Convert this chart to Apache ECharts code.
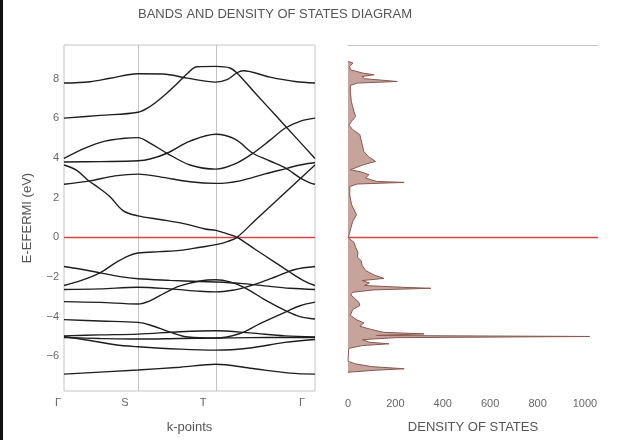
<!DOCTYPE html>
<html>
<head>
<meta charset="utf-8">
<title>Bands and density of states</title>
<script src="https://cdn.jsdelivr.net/npm/echarts@6/dist/echarts.min.js"></script>
<style>
  html, body { margin: 0; padding: 0; background: #fff; }
  #chart { width: 642px; height: 440px; }
</style>
</head>
<body>
<div id="chart"></div>
<script>
// High-symmetry points along the k-path (path length units)
const kTicks = [0, 0.74, 1.52, 2.51];
const kLabels = ['Γ', 'S', 'T', 'Γ'];
const energyTicks = [-6, -4, -2, 0, 2, 4, 6, 8];
const dosTicks = [0, 200, 400, 600, 800, 1000];

// Band energies E - E_Fermi (eV) sampled along the path: [k, E]
const band01 = [[0,7.78],[0.26,7.85],[0.46,8.02],[0.74,8.25],[0.99,8.24],[1.23,8.03],[1.52,7.83],[1.63,7.95],[1.73,8.3],[1.79,8.4],[2.06,8.08],[2.31,7.86],[2.51,7.78]];
const band02 = [[0,6.01],[0.36,6.15],[0.74,6.31],[0.86,6.6],[1.01,7.19],[1.12,7.7],[1.24,8.29],[1.33,8.6],[1.52,8.62],[1.66,8.54],[1.73,8.29],[1.92,7.23],[2.12,6.13],[2.31,5.08],[2.51,3.98]];
const band03 = [[0,3.98],[0.21,4.5],[0.41,4.85],[0.61,5.0],[0.74,5.03],[0.86,4.75],[1.03,4.24],[1.26,3.65],[1.52,3.44],[1.71,3.7],[1.89,4.24],[2.06,4.9],[2.21,5.5],[2.36,5.85],[2.51,6.01]];
const band04 = [[0,3.8],[0.36,3.82],[0.74,3.86],[0.86,3.95],[1.03,4.24],[1.26,4.85],[1.52,5.2],[1.71,4.95],[1.89,4.24],[2.06,3.85],[2.23,3.45],[2.36,3.0],[2.46,2.75],[2.51,2.68]];
const band05 = [[0,2.68],[0.26,2.85],[0.51,3.1],[0.74,3.19],[0.96,3.05],[1.26,2.8],[1.52,2.72],[1.76,2.85],[2.01,3.2],[2.23,3.48],[2.36,3.65],[2.51,3.76]];
const band06 = [[0,3.65],[0.12,3.4],[0.24,2.88],[0.36,2.45],[0.46,2.05],[0.59,1.35],[0.74,1.08],[0.96,0.9],[1.21,0.68],[1.41,0.42],[1.52,0.35],[1.62,0.2],[1.73,0],[1.91,-0.6],[2.11,-1.26],[2.26,-1.76],[2.41,-2.22],[2.51,-2.43]];
const band07 = [[0,-2.43],[0.16,-2.2],[0.36,-1.79],[0.51,-1.3],[0.64,-0.95],[0.74,-0.79],[0.96,-0.72],[1.16,-0.66],[1.36,-0.5],[1.52,-0.37],[1.64,-0.2],[1.73,0],[1.91,0.85],[2.11,1.78],[2.31,2.72],[2.51,3.65]];
const band08 = [[0,-1.47],[0.16,-1.6],[0.36,-1.79],[0.56,-1.98],[0.74,-2.09],[1.06,-2.17],[1.36,-2.23],[1.52,-2.25],[1.76,-2.32],[2.01,-2.45],[2.26,-2.57],[2.51,-2.63]];
const band09 = [[0,-2.63],[0.36,-2.6],[0.74,-2.52],[1.06,-2.6],[1.36,-2.72],[1.52,-2.75],[1.71,-2.65],[1.81,-2.52],[1.96,-2.28],[2.11,-2.0],[2.31,-1.62],[2.51,-1.47]];
const band10 = [[0,-3.24],[0.36,-3.28],[0.74,-3.36],[0.86,-3.2],[1.01,-2.8],[1.16,-2.45],[1.36,-2.2],[1.52,-2.14],[1.66,-2.25],[1.81,-2.55],[2.01,-3.15],[2.23,-3.73],[2.36,-4.0],[2.51,-4.12]];
const band11 = [[0,-4.15],[0.36,-4.22],[0.74,-4.29],[0.86,-4.42],[1.06,-4.78],[1.24,-5.03],[1.52,-5.08],[1.76,-4.85],[1.96,-4.35],[2.23,-3.73],[2.36,-3.45],[2.51,-3.27]];
const band12 = [[0,-4.97],[0.36,-4.92],[0.74,-4.88],[1.16,-4.76],[1.52,-4.71],[1.86,-4.82],[2.21,-4.97],[2.51,-5.02]];
const band13 = [[0,-5.05],[0.36,-5.1],[0.74,-5.13],[1.16,-5.1],[1.52,-5.08],[1.86,-5.06],[2.21,-5.05],[2.51,-5.05]];
const band14 = [[0,-5.0],[0.26,-5.2],[0.51,-5.42],[0.74,-5.52],[1.16,-5.64],[1.52,-5.69],[1.86,-5.58],[2.21,-5.3],[2.51,-5.15]];
const band15 = [[0,-6.9],[0.74,-6.69],[1.16,-6.55],[1.52,-6.4],[1.86,-6.6],[2.26,-6.85],[2.51,-6.9]];

// Total density of states versus energy (eV)
const dosEnergy = [8.87,8.79,8.62,8.45,8.29,8.2,8.11,8.0,7.86,7.78,7.66,7.36,6.85,6.35,6.1,5.85,5.65,5.43,5.18,4.92,4.67,4.33,4.08,3.83,3.66,3.41,3.3,3.16,2.99,2.82,2.77,2.69,2.57,2.15,1.65,1.14,0.81,0.3,0.05,-0.08,-0.25,-0.5,-0.76,-1.01,-1.17,-1.43,-1.68,-1.9,-2.07,-2.18,-2.3,-2.43,-2.52,-2.57,-2.65,-2.77,-2.9,-3.1,-3.28,-3.44,-3.64,-3.93,-4.15,-4.32,-4.49,-4.65,-4.79,-4.87,-4.95,-5.0,-5.06,-5.16,-5.29,-5.37,-5.46,-5.6,-5.7,-6.25,-6.3,-6.38,-6.52,-6.63,-6.7,-6.8,-6.85];
const dosStates = [0,21,7,10,60,110,60,70,208,40,10,10,14,25,32,15,4,20,50,55,60,67,85,116,65,10,55,88,74,120,237,40,8,7,15,36,20,8,3,7,25,32,42,40,55,60,75,110,152,60,90,70,230,350,110,20,12,30,46,50,20,10,35,67,50,100,150,321,120,1020,200,60,90,173,60,3,0,0,3,30,100,237,120,3,0];

const bands = [band01, band02, band03, band04, band05, band06, band07, band08, band09, band10, band11, band12, band13, band14, band15];

const eMin = -7.75, eMax = 9.7;
const gridColor = '#c4c4c4';
const textColor = '#666';
const fermiColor = '#d64545';

const chart = echarts.init(document.getElementById('chart'), null, { renderer: 'canvas' });

const dosPairs = dosStates.map((v, i) => [v, dosEnergy[i]]);

const bandSeries = bands.map((b, i) => {
  const s = {
    type: 'line',
    xAxisIndex: 0,
    yAxisIndex: 0,
    data: b,
    smooth: 0.35,
    showSymbol: false,
    symbol: 'none',
    silent: true,
    z: 3,
    lineStyle: { color: '#1e1e1e', width: 1.4 }
  };
  if (i === 0) {
    s.markLine = {
      silent: true,
      symbol: 'none',
      label: { show: false },
      z: 1,
      data: [
        { xAxis: kTicks[1], lineStyle: { color: gridColor, width: 1, type: 'solid' } },
        { xAxis: kTicks[2], lineStyle: { color: gridColor, width: 1, type: 'solid' } },
        { yAxis: 0, lineStyle: { color: fermiColor, width: 1.4, type: 'solid' } }
      ]
    };
  }
  return s;
});

const option = {
  animation: false,
  backgroundColor: '#fff',
  textStyle: { fontFamily: 'Liberation Sans, Arial, sans-serif' },
  title: {
    text: 'BANDS AND DENSITY OF STATES DIAGRAM',
    left: 133,
    top: 3,
    textStyle: { color: '#555', fontSize: 13, fontWeight: 'normal' }
  },
  graphic: [
    { type: 'rect', left: 0, top: 0, shape: { width: 3, height: 440 }, style: { fill: '#111' } }
  ],
  grid: [
    { left: 64, top: 45, width: 251, height: 346, show: true, borderColor: gridColor, borderWidth: 1, backgroundColor: 'transparent' },
    { left: 348, top: 45, width: 250, height: 346 }
  ],
  xAxis: [
    {
      gridIndex: 0, type: 'value', min: 0, max: kTicks[3],
      axisLine: { show: false }, axisTick: { show: false }, splitLine: { show: false },
      axisLabel: {
        customValues: kTicks,
        color: textColor, fontSize: 11, margin: 6,
        formatter: function (v) {
          const i = kTicks.indexOf(v);
          return i < 0 ? '' : '{p' + i + '|' + kLabels[i] + '}';
        },
        rich: {
          p0: { padding: [0, 12, 0, 0], color: textColor, fontSize: 11 },
          p1: { padding: [0, 26, 0, 0], color: textColor, fontSize: 11 },
          p2: { padding: [0, 26, 0, 0], color: textColor, fontSize: 11 },
          p3: { padding: [0, 26, 0, 0], color: textColor, fontSize: 11 }
        }
      },
      name: 'k-points', nameLocation: 'middle', nameGap: 30,
      nameTextStyle: { color: '#555', fontSize: 13 }
    },
    {
      gridIndex: 1, type: 'value', min: 0, max: 1055,
      axisLine: { show: true, lineStyle: { color: gridColor, width: 1.2 } },
      axisTick: { show: false }, splitLine: { show: false },
      axisLabel: { customValues: dosTicks, color: textColor, fontSize: 11, margin: 7, formatter: v => String(v) },
      name: 'DENSITY OF STATES', nameLocation: 'middle', nameGap: 30,
      nameTextStyle: { color: '#555', fontSize: 13 }
    },
    {
      gridIndex: 1, type: 'value', min: 0, max: 1055, position: 'top',
      axisLine: { show: true, lineStyle: { color: gridColor, width: 1.2 } },
      axisTick: { show: false }, axisLabel: { show: false }, splitLine: { show: false }
    }
  ],
  yAxis: [
    {
      gridIndex: 0, type: 'value', min: eMin, max: eMax,
      axisLine: { show: false }, axisTick: { show: false }, splitLine: { show: false },
      axisLabel: {
        customValues: energyTicks, color: textColor, fontSize: 11, margin: 5,
        formatter: v => (v < 0 ? '\u2212' + Math.abs(v) : String(v))
      },
      name: 'E-EFERMI (eV)', nameLocation: 'middle', nameGap: 30,
      nameTextStyle: { color: '#555', fontSize: 13 }
    },
    {
      gridIndex: 1, type: 'value', min: eMin, max: eMax,
      axisLine: { show: false }, axisTick: { show: false },
      axisLabel: { show: false }, splitLine: { show: false }
    }
  ],
  series: bandSeries.concat([
    {
      // filled DOS area, closed back along zero states
      type: 'custom',
      xAxisIndex: 1,
      yAxisIndex: 1,
      silent: true,
      z: 2,
      data: [[0, 0]],
      renderItem: function (params, api) {
        const pts = dosPairs.map(p => api.coord(p));
        pts.unshift(api.coord([0, dosEnergy[0]]));
        pts.push(api.coord([0, dosEnergy[dosEnergy.length - 1]]));
        return {
          type: 'polygon',
          shape: { points: pts },
          style: { fill: '#c6a49c', stroke: 'none' }
        };
      }
    },
    {
      type: 'line',
      xAxisIndex: 1,
      yAxisIndex: 1,
      data: dosPairs,
      showSymbol: false,
      symbol: 'none',
      silent: true,
      z: 3,
      lineStyle: { color: '#8a5850', width: 1 },
      markLine: {
        silent: true,
        symbol: 'none',
        label: { show: false },
        data: [{ yAxis: 0, lineStyle: { color: fermiColor, width: 1.4, type: 'solid' } }]
      }
    }
  ])
};

chart.setOption(option);
</script>
</body>
</html>
